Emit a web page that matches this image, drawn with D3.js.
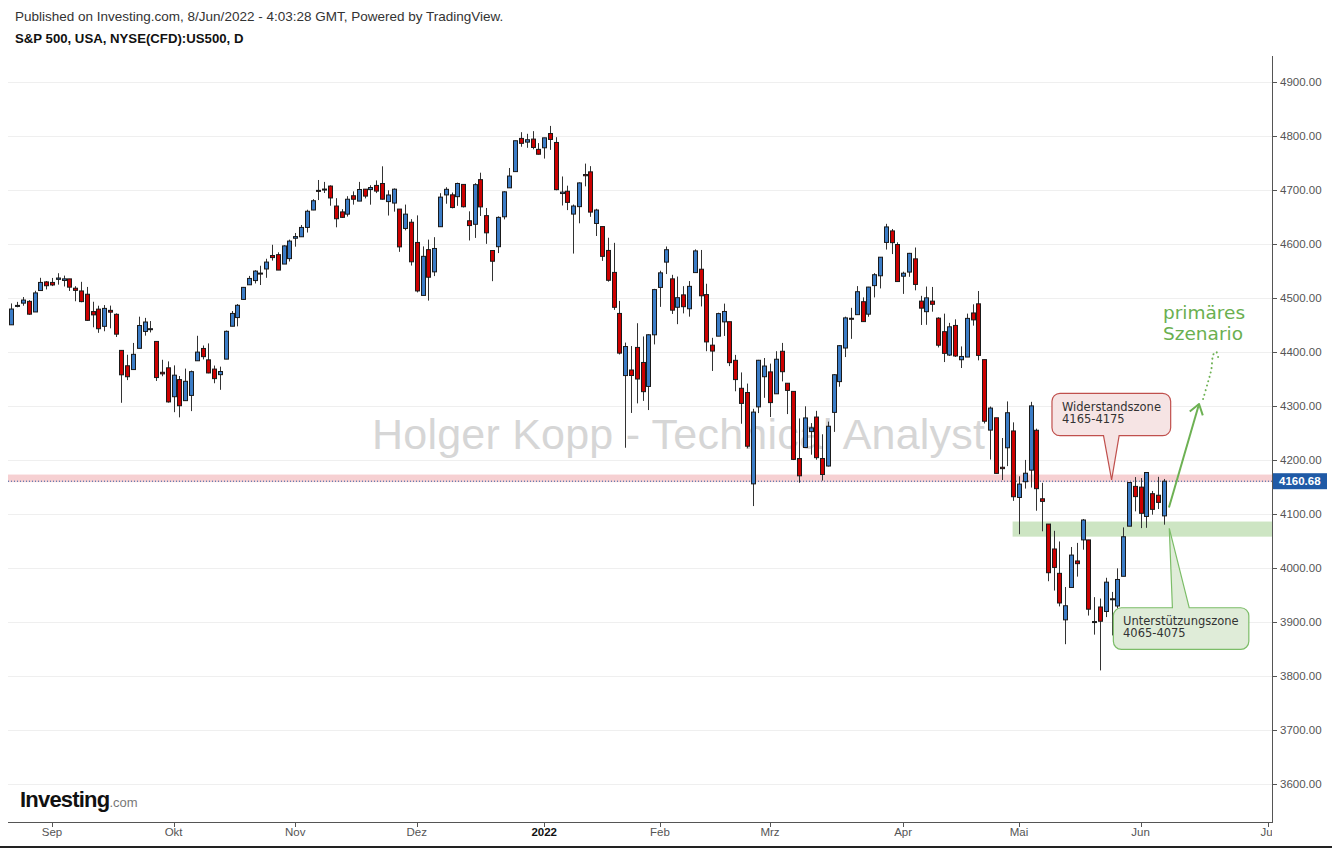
<!DOCTYPE html>
<html><head><meta charset="utf-8">
<script src="https://cdn.jsdelivr.net/npm/d3@7"></script>
<style>body{margin:0;background:#fff}svg{display:block}</style>
</head><body>
<svg id="c" width="1332" height="848"></svg>
<script>
// ---------- DATA ----------
const dates = [
"2021-08-23","2021-08-24","2021-08-25","2021-08-26","2021-08-27","2021-08-30","2021-08-31",
"2021-09-01","2021-09-02","2021-09-03","2021-09-07","2021-09-08","2021-09-09","2021-09-10","2021-09-13","2021-09-14","2021-09-15","2021-09-16","2021-09-17","2021-09-20","2021-09-21","2021-09-22","2021-09-23","2021-09-24","2021-09-27","2021-09-28","2021-09-29","2021-09-30",
"2021-10-01","2021-10-04","2021-10-05","2021-10-06","2021-10-07","2021-10-08","2021-10-11","2021-10-12","2021-10-13","2021-10-14","2021-10-15","2021-10-18","2021-10-19","2021-10-20","2021-10-21","2021-10-22","2021-10-25","2021-10-26","2021-10-27","2021-10-28","2021-10-29",
"2021-11-01","2021-11-02","2021-11-03","2021-11-04","2021-11-05","2021-11-08","2021-11-09","2021-11-10","2021-11-11","2021-11-12","2021-11-15","2021-11-16","2021-11-17","2021-11-18","2021-11-19","2021-11-22","2021-11-23","2021-11-24","2021-11-26","2021-11-29","2021-11-30",
"2021-12-01","2021-12-02","2021-12-03","2021-12-06","2021-12-07","2021-12-08","2021-12-09","2021-12-10","2021-12-13","2021-12-14","2021-12-15","2021-12-16","2021-12-17","2021-12-20","2021-12-21","2021-12-22","2021-12-23","2021-12-27","2021-12-28","2021-12-29","2021-12-30","2021-12-31",
"2022-01-03","2022-01-04","2022-01-05","2022-01-06","2022-01-07","2022-01-10","2022-01-11","2022-01-12","2022-01-13","2022-01-14","2022-01-18","2022-01-19","2022-01-20","2022-01-21","2022-01-24","2022-01-25","2022-01-26","2022-01-27","2022-01-28","2022-01-31",
"2022-02-01","2022-02-02","2022-02-03","2022-02-04","2022-02-07","2022-02-08","2022-02-09","2022-02-10","2022-02-11","2022-02-14","2022-02-15","2022-02-16","2022-02-17","2022-02-18","2022-02-22","2022-02-23","2022-02-24","2022-02-25","2022-02-28",
"2022-03-01","2022-03-02","2022-03-03","2022-03-04","2022-03-07","2022-03-08","2022-03-09","2022-03-10","2022-03-11","2022-03-14","2022-03-15","2022-03-16","2022-03-17","2022-03-18","2022-03-21","2022-03-22","2022-03-23","2022-03-24","2022-03-25","2022-03-28","2022-03-29","2022-03-30","2022-03-31",
"2022-04-01","2022-04-04","2022-04-05","2022-04-06","2022-04-07","2022-04-08","2022-04-11","2022-04-12","2022-04-13","2022-04-14","2022-04-18","2022-04-19","2022-04-20","2022-04-21","2022-04-22","2022-04-25","2022-04-26","2022-04-27","2022-04-28","2022-04-29",
"2022-05-02","2022-05-03","2022-05-04","2022-05-05","2022-05-06","2022-05-09","2022-05-10","2022-05-11","2022-05-12","2022-05-13","2022-05-16","2022-05-17","2022-05-18","2022-05-19","2022-05-20","2022-05-23","2022-05-24","2022-05-25","2022-05-26","2022-05-27","2022-05-31",
"2022-06-01","2022-06-02","2022-06-03","2022-06-06","2022-06-07"];

const opens = [
4450.29,4484.40,4490.45,4493.75,4474.10,4513.76,4529.75,
4528.80,4534.48,4532.42,4535.38,4518.09,4513.02,4506.92,4474.81,4479.33,4447.49,4477.09,4469.74,4402.95,4374.45,4367.43,4406.75,4438.04,4442.12,4419.54,4362.41,4370.67,
4317.16,4348.84,4309.87,4319.57,4383.73,4406.51,4385.44,4368.31,4358.01,4386.75,4447.69,4463.72,4497.34,4524.42,4532.24,4546.12,4553.69,4578.69,4580.22,4562.84,4572.87,
4610.62,4613.34,4630.65,4662.93,4699.26,4701.48,4707.25,4670.26,4659.39,4655.24,4689.30,4679.42,4701.50,4700.72,4708.44,4712.00,4678.48,4675.78,4664.63,4628.75,4640.25,
4602.82,4504.73,4589.49,4548.37,4631.97,4690.86,4691.00,4687.64,4710.30,4642.99,4636.46,4719.13,4652.50,4587.90,4594.96,4650.36,4703.96,4733.99,4795.49,4788.64,4794.23,4775.21,
4778.14,4804.51,4787.99,4693.39,4697.66,4655.34,4669.14,4728.59,4733.56,4637.99,4632.24,4588.03,4547.35,4471.38,4356.32,4366.64,4408.43,4380.58,4336.19,4431.79,
4519.57,4566.39,4535.41,4482.79,4505.75,4480.02,4547.00,4553.24,4506.27,4412.61,4429.28,4455.75,4456.06,4384.57,4332.74,4324.93,4155.77,4298.38,4354.17,
4363.14,4322.56,4401.31,4342.12,4327.01,4202.66,4223.10,4252.55,4279.50,4202.75,4188.82,4288.14,4345.11,4407.34,4462.40,4469.10,4493.10,4469.98,4522.91,4541.09,4602.86,4624.20,4599.02,
4540.32,4547.97,4572.45,4494.17,4474.65,4494.15,4462.64,4437.59,4394.30,4449.12,4385.63,4390.63,4472.26,4489.17,4385.83,4255.34,4278.14,4186.52,4222.58,4253.75,
4130.61,4159.78,4181.18,4255.00,4128.17,4081.27,4035.18,3990.08,3903.95,3963.90,4013.02,4052.00,4051.98,3899.00,3927.76,3919.42,3942.94,3929.59,3984.60,4077.43,4151.09,
4149.78,4095.41,4137.57,4134.72,4096.47];

const highs = [
4489.88,4492.81,4501.71,4495.90,4513.33,4537.36,4531.39,
4537.11,4545.85,4541.45,4535.38,4521.79,4529.90,4520.47,4492.99,4485.68,4486.87,4485.87,4471.52,4402.95,4394.87,4416.75,4465.40,4463.12,4457.30,4419.54,4385.57,4382.55,
4375.19,4355.51,4369.23,4365.57,4429.97,4412.02,4415.88,4374.89,4372.87,4439.73,4475.82,4488.75,4520.40,4540.87,4551.44,4559.67,4572.62,4598.53,4584.57,4597.55,4608.08,
4620.34,4635.15,4663.46,4683.00,4718.50,4714.92,4708.53,4684.85,4664.55,4688.47,4697.42,4714.95,4701.50,4708.80,4717.75,4743.83,4699.39,4702.87,4664.63,4672.95,4646.02,
4652.94,4595.46,4608.03,4612.60,4694.04,4705.06,4695.26,4713.57,4710.30,4660.47,4712.60,4731.99,4666.70,4587.90,4651.14,4697.67,4740.74,4791.49,4807.02,4804.06,4808.93,4786.83,
4796.64,4818.62,4797.70,4725.01,4707.95,4673.02,4714.13,4748.83,4744.13,4665.13,4632.24,4611.55,4602.11,4494.52,4417.35,4411.01,4453.23,4428.74,4432.72,4516.89,
4550.49,4595.31,4542.88,4539.66,4521.86,4531.32,4590.03,4588.92,4526.33,4426.22,4472.77,4489.55,4456.06,4394.60,4362.12,4341.51,4294.73,4385.34,4388.84,
4378.45,4401.48,4416.78,4342.12,4327.01,4276.94,4299.40,4268.28,4291.01,4247.57,4271.05,4358.90,4412.67,4465.40,4481.75,4522.00,4501.07,4520.58,4546.03,4575.65,4637.30,4627.77,4603.07,
4548.70,4583.50,4593.45,4503.94,4521.16,4520.41,4464.35,4471.00,4453.92,4460.46,4410.31,4471.03,4488.29,4512.94,4385.83,4299.02,4278.14,4240.71,4308.45,4269.68,
4169.81,4200.10,4307.66,4258.00,4157.69,4081.27,4068.82,4049.09,3964.80,4038.88,4046.46,4090.72,4051.98,3945.96,3943.42,3981.88,3955.68,3999.33,4075.14,4158.49,4168.34,
4166.54,4177.51,4142.67,4168.78,4164.86];

const lows = [
4450.29,4482.73,4485.66,4468.99,4474.10,4513.76,4515.80,
4522.02,4524.66,4521.30,4513.00,4493.95,4492.07,4457.66,4445.70,4435.46,4438.37,4443.80,4427.76,4305.91,4347.96,4367.43,4406.75,4430.27,4436.19,4346.33,4355.08,4306.24,
4288.52,4278.94,4309.87,4290.49,4383.73,4386.22,4360.59,4342.09,4329.92,4386.75,4447.69,4447.47,4496.41,4524.40,4526.89,4524.00,4537.36,4569.17,4551.66,4562.84,4567.59,
4595.06,4613.34,4621.19,4662.59,4681.32,4694.39,4670.87,4630.86,4648.31,4650.77,4672.86,4679.42,4684.41,4672.78,4694.22,4682.17,4652.66,4659.89,4585.43,4625.26,4560.00,
4510.27,4504.73,4495.12,4540.51,4631.97,4674.52,4665.98,4670.64,4667.60,4606.52,4611.22,4651.89,4600.22,4531.10,4583.16,4645.53,4703.96,4733.99,4780.04,4778.08,4775.33,4765.75,
4758.17,4774.27,4699.44,4671.26,4662.74,4582.24,4638.27,4706.71,4650.29,4614.75,4568.70,4530.20,4477.95,4395.34,4222.62,4287.11,4304.80,4309.50,4292.46,4414.02,
4483.53,4544.32,4470.39,4451.50,4471.47,4465.40,4547.00,4484.31,4401.41,4364.84,4429.28,4429.68,4373.81,4327.22,4267.11,4221.51,4114.65,4286.83,4315.12,
4279.54,4322.56,4345.56,4284.98,4199.85,4157.87,4223.10,4209.80,4200.49,4161.72,4187.90,4251.99,4335.65,4390.57,4424.30,4469.10,4455.81,4465.17,4501.07,4517.69,4589.66,4581.32,4530.41,
4507.57,4539.21,4514.17,4450.04,4450.30,4474.60,4408.38,4381.34,4392.70,4390.77,4370.30,4390.63,4448.76,4384.47,4267.62,4200.82,4175.04,4162.90,4188.63,4124.28,
4062.51,4147.08,4148.91,4106.01,4067.91,3975.48,3958.17,3928.82,3858.87,3963.90,3983.99,4033.93,3911.91,3876.58,3810.32,3909.04,3875.13,3925.03,3984.60,4077.43,4104.88,
4073.85,4074.37,4098.67,4109.18,4080.19];

const closes = [
4479.53,4486.23,4496.19,4470.00,4509.37,4528.79,4522.68,
4524.09,4536.95,4535.43,4520.03,4514.07,4493.28,4458.58,4468.73,4443.05,4480.70,4473.75,4432.99,4357.73,4354.19,4395.64,4448.98,4455.48,4443.11,4352.63,4359.46,4307.54,
4357.04,4300.46,4345.72,4363.55,4399.76,4391.34,4361.19,4350.65,4363.80,4438.26,4471.37,4486.46,4519.63,4536.19,4549.78,4544.90,4566.48,4574.79,4551.68,4596.42,4605.38,
4613.67,4630.65,4660.57,4680.06,4697.53,4701.70,4685.25,4646.71,4649.27,4682.85,4682.80,4700.90,4688.67,4704.54,4697.96,4682.94,4690.70,4701.46,4594.62,4655.27,4567.00,
4513.04,4577.10,4538.43,4591.67,4686.75,4701.21,4667.45,4712.02,4668.97,4634.09,4709.85,4668.67,4620.64,4568.02,4649.23,4696.56,4725.79,4791.19,4786.35,4793.06,4778.73,4766.18,
4796.56,4793.54,4700.58,4696.05,4677.03,4670.29,4713.07,4726.35,4659.03,4662.85,4577.11,4532.76,4482.73,4397.94,4410.13,4356.45,4349.93,4326.51,4431.85,4515.55,
4546.54,4589.38,4477.44,4500.53,4483.87,4521.54,4587.18,4504.08,4418.64,4401.67,4471.07,4475.01,4380.26,4348.87,4304.76,4225.50,4288.70,4384.65,4373.94,
4306.26,4386.54,4363.49,4328.87,4201.09,4170.70,4277.88,4259.52,4204.31,4173.11,4262.45,4357.86,4411.67,4463.12,4461.18,4511.61,4456.24,4520.16,4543.06,4575.52,4631.60,4602.45,4530.41,
4545.86,4582.64,4525.12,4481.15,4500.21,4488.28,4412.53,4397.45,4446.59,4392.59,4391.69,4462.21,4459.45,4393.66,4271.78,4296.12,4175.20,4183.96,4287.50,4131.93,
4155.38,4175.48,4300.17,4146.87,4123.34,3991.24,4001.05,3935.18,3930.08,4023.89,4008.01,4088.85,3923.68,3900.79,3901.36,3973.75,3941.48,3978.73,4057.84,4158.24,4132.15,
4101.23,4176.82,4108.54,4121.43,4160.68];

const yTicks = [3600,3700,3800,3900,4000,4100,4200,4300,4400,4500,4600,4700,4800,4900];
const monthTickDates = ["2021-09-01","2021-10-01","2021-11-01","2021-12-01","2022-01-03","2022-02-01","2022-03-01","2022-04-01","2022-05-02","2022-06-01","2022-07-01"];
const monthTickLabels = ["Sep","Okt","Nov","Dez","2022","Feb","Mrz","Apr","Mai","Jun","Jul"];
const lastPrice = 4160.68;
const resistanceZone = [4159, 4173];
const supportZone = [4058, 4086];

// ---------- SETUP ----------
const svg = d3.select("#c");
const L = 8, R = 1272, T = 56, B = 822;
const x = d3.scaleLinear().domain([-0.6, 217.7]).range([L, R]);
const y = d3.scaleLinear().domain([3529.6, 4948.1]).range([B, T]);

// trading-day index, extended with future weekdays for axis ticks
const allDays = dates.slice();
{
  let d = new Date(dates[dates.length-1] + "T12:00:00Z");
  while (allDays.length < 240) {
    d = new Date(d.getTime() + 86400000);
    const wd = d.getUTCDay();
    if (wd !== 0 && wd !== 6) allDays.push(d.toISOString().slice(0,10));
  }
}
const idx = s => allDays.indexOf(s);

const candles = dates.map((d,i)=>({d, i, o:opens[i], h:highs[i], l:lows[i], c:closes[i]}));

svg.append("rect").attr("width",1332).attr("height",848).attr("fill","#fff");

const defs = svg.append("defs");
defs.append("clipPath").attr("id","plot").append("rect").attr("x",L).attr("y",T).attr("width",R-L).attr("height",B-T);
defs.append("clipPath").attr("id","xlab").append("rect").attr("x",0).attr("y",B).attr("width",R).attr("height",30);

// ---------- HEADER ----------
svg.append("text").attr("x",15).attr("y",21).attr("font-family","'Liberation Sans',Arial,sans-serif")
  .attr("font-size",13.5).attr("fill","#333").text("Published on Investing.com, 8/Jun/2022 - 4:03:28 GMT, Powered by TradingView.");
svg.append("text").attr("x",15).attr("y",43).attr("font-family","'Liberation Sans',Arial,sans-serif")
  .attr("font-size",13.2).attr("font-weight","bold").attr("fill","#111").text("S&P 500, USA, NYSE(CFD):US500, D");

const plot = svg.append("g").attr("clip-path","url(#plot)");

// gridlines
plot.selectAll("line.grid").data(yTicks).join("line").attr("class","grid")
  .attr("x1",L).attr("x2",R).attr("y1",d=>Math.round(y(d))+0.5).attr("y2",d=>Math.round(y(d))+0.5)
  .attr("stroke","#efefef").attr("stroke-width",1);

// watermark
plot.append("text").attr("x",372).attr("y",449)
  .attr("font-family","'Liberation Sans',Arial,sans-serif").attr("font-size",43)
  .attr("fill","#d6d6d6").attr("textLength",613).text("Holger Kopp - Technical Analyst");

// zones
plot.append("rect").attr("x",L).attr("width",R-L)
  .attr("y",y(resistanceZone[1])).attr("height",y(resistanceZone[0])-y(resistanceZone[1]))
  .attr("fill","#f6d0d2");
plot.append("rect").attr("x",x(172.9)).attr("width",R-x(172.9))
  .attr("y",y(supportZone[1])).attr("height",y(supportZone[0])-y(supportZone[1]))
  .attr("fill","#cde5c3");

// last price dotted line
plot.append("line").attr("x1",L).attr("x2",R).attr("y1",y(lastPrice)).attr("y2",y(lastPrice))
  .attr("stroke","#2c5ea8").attr("stroke-width",1).attr("stroke-dasharray","1,2");

// candles
const cg = plot.append("g");
cg.selectAll("line.wick").data(candles).join("line").attr("class","wick")
  .attr("x1",d=>Math.round(x(d.i))+0.5).attr("x2",d=>Math.round(x(d.i))+0.5)
  .attr("y1",d=>y(d.h)).attr("y2",d=>y(d.l)).attr("stroke","#333").attr("stroke-width",1);
cg.selectAll("rect.body").data(candles).join("rect").attr("class","body")
  .attr("x",d=>Math.round(x(d.i))-1.5).attr("width",4)
  .attr("y",d=>y(Math.max(d.o,d.c)))
  .attr("height",d=>Math.max(1,Math.abs(y(d.o)-y(d.c))))
  .attr("fill",d=>d.c>=d.o?"#3b7cc6":"#cc0000")
  .attr("stroke","#1a1a1a").attr("stroke-width",1);

// ---------- ANNOTATIONS ----------
function callout(x0,x1,y0,y1,pb1,pb2,tx,ty,pointerTop,r){
  let p = `M${x0+r},${y0}`;
  if (pointerTop) p += `L${pb1},${y0}L${tx},${ty}L${pb2},${y0}`;
  p += `L${x1-r},${y0}A${r},${r} 0 0 1 ${x1},${y0+r}L${x1},${y1-r}A${r},${r} 0 0 1 ${x1-r},${y1}`;
  if (!pointerTop) p += `L${pb2},${y1}L${tx},${ty}L${pb1},${y1}`;
  p += `L${x0+r},${y1}A${r},${r} 0 0 1 ${x0},${y1-r}L${x0},${y0+r}A${r},${r} 0 0 1 ${x0+r},${y0}Z`;
  return p;
}
const ann = svg.append("g");
// resistance callout
ann.append("path").attr("d",callout(x(179.7),x(200.2),y(4323.5),y(4245),x(188.6),x(191.3),x(190.0),y(4163),false,8))
  .attr("fill","#f6e4e4").attr("stroke","#c0504d").attr("stroke-width",1.2);
const ft = "'DejaVu Sans',Verdana,sans-serif";
ann.append("text").attr("x",1062).attr("y",411).attr("font-family",ft).attr("font-size",11.5).attr("fill","#333").text("Widerstandszone");
ann.append("text").attr("x",1062).attr("y",423).attr("font-family",ft).attr("font-size",11.5).attr("fill","#333").text("4165-4175");
// support callout
ann.append("path").attr("d",callout(x(190.3),x(213.7),y(3926.4),y(3849.4),x(200.5),x(203.4),x(199.96),y(4073.5),true,8))
  .attr("fill","#dfecd8").attr("stroke","#7cbd68").attr("stroke-width",1.2);
ann.append("text").attr("x",1123).attr("y",625).attr("font-family",ft).attr("font-size",11.5).attr("fill","#333").text("Unterstützungszone");
ann.append("text").attr("x",1123).attr("y",637).attr("font-family",ft).attr("font-size",11.5).attr("fill","#333").text("4065-4075");

// green arrow
const a0=[x(199.9),y(4112)], a1=[x(205.1),y(4303.7)];
ann.append("line").attr("x1",a0[0]).attr("y1",a0[1]).attr("x2",a1[0]).attr("y2",a1[1])
  .attr("stroke","#6db153").attr("stroke-width",2);
{
  const ang = Math.atan2(a0[1]-a1[1], a0[0]-a1[0]);
  const len = 12, spread = 0.6;
  const p1=[a1[0]+len*Math.cos(ang+spread), a1[1]+len*Math.sin(ang+spread)];
  const p2=[a1[0]+len*Math.cos(ang-spread), a1[1]+len*Math.sin(ang-spread)];
  ann.append("path").attr("d",`M${p1}L${a1}L${p2}`).attr("fill","none")
    .attr("stroke","#6db153").attr("stroke-width",2).attr("stroke-linejoin","round");
}
// dotted continuation
const dotPts = [[205.8,4312.9],[206.6,4342.5],[207.2,4366.6],[207.6,4396],[208.1,4400],[208.5,4383.3]];
ann.append("path").attr("d",d3.line().curve(d3.curveCatmullRom)(dotPts.map(p=>[x(p[0]),y(p[1])])))
  .attr("fill","none").attr("stroke","#6db153").attr("stroke-width",2)
  .attr("stroke-dasharray","0.1,4.5").attr("stroke-linecap","round");
ann.append("text").attr("x",1163).attr("y",319).attr("font-family",ft).attr("font-size",18.5).attr("fill","#6aaf50").text("primäres");
ann.append("text").attr("x",1163).attr("y",340).attr("font-family",ft).attr("font-size",18.5).attr("fill","#6aaf50").text("Szenario");

// ---------- AXES ----------
const axisColor = "#555";
svg.append("line").attr("x1",R+0.5).attr("x2",R+0.5).attr("y1",T).attr("y2",B+1).attr("stroke",axisColor);
svg.append("line").attr("x1",L).attr("x2",R+1).attr("y1",B+0.5).attr("y2",B+0.5).attr("stroke",axisColor);
const ya = svg.append("g");
ya.selectAll("line").data(yTicks).join("line")
  .attr("x1",R).attr("x2",R+5).attr("y1",d=>Math.round(y(d))+0.5).attr("y2",d=>Math.round(y(d))+0.5).attr("stroke",axisColor);
ya.selectAll("text").data(yTicks).join("text")
  .attr("x",1280).attr("y",d=>y(d)+4).attr("font-family","'Liberation Sans',Arial,sans-serif")
  .attr("font-size",11.5).attr("fill","#555").text(d=>d3.format(".2f")(d));

const xa = svg.append("g");
const mt = monthTickDates.map((d,k)=>({i:idx(d), label:monthTickLabels[k]}));
xa.selectAll("line").data(mt).join("line")
  .attr("x1",d=>Math.round(x(d.i))+0.5).attr("x2",d=>Math.round(x(d.i))+0.5).attr("y1",B).attr("y2",B+5).attr("stroke",axisColor);
xa.append("g").attr("clip-path","url(#xlab)").selectAll("text").data(mt).join("text")
  .attr("x",d=>x(d.i)).attr("y",836).attr("text-anchor","middle")
  .attr("font-family","'Liberation Sans',Arial,sans-serif").attr("font-size",11.5)
  .attr("font-weight",d=>d.label==="2022"?"bold":"normal")
  .attr("fill",d=>d.label==="2022"?"#111":"#555").text(d=>d.label);

// last price label
svg.append("rect").attr("x",R+1).attr("y",y(lastPrice)-8).attr("width",54).attr("height",16).attr("fill","#1f5aa6");
svg.append("text").attr("x",1279).attr("y",y(lastPrice)+4).attr("font-family","'Liberation Sans',Arial,sans-serif")
  .attr("font-size",11.5).attr("font-weight","bold").attr("fill","#fff").text(lastPrice.toFixed(2));

// logo
const logo = svg.append("text").attr("x",20).attr("y",807).attr("font-family","'Liberation Sans',Arial,sans-serif");
logo.append("tspan").attr("font-size",22).attr("font-weight","bold").attr("fill","#111").attr("letter-spacing",-0.8).text("Investing");
logo.append("tspan").attr("font-size",13).attr("fill","#777").text(".com");

// bottom border
svg.append("rect").attr("x",0).attr("y",846).attr("width",1332).attr("height",2).attr("fill","#222");
</script>
</body></html>
